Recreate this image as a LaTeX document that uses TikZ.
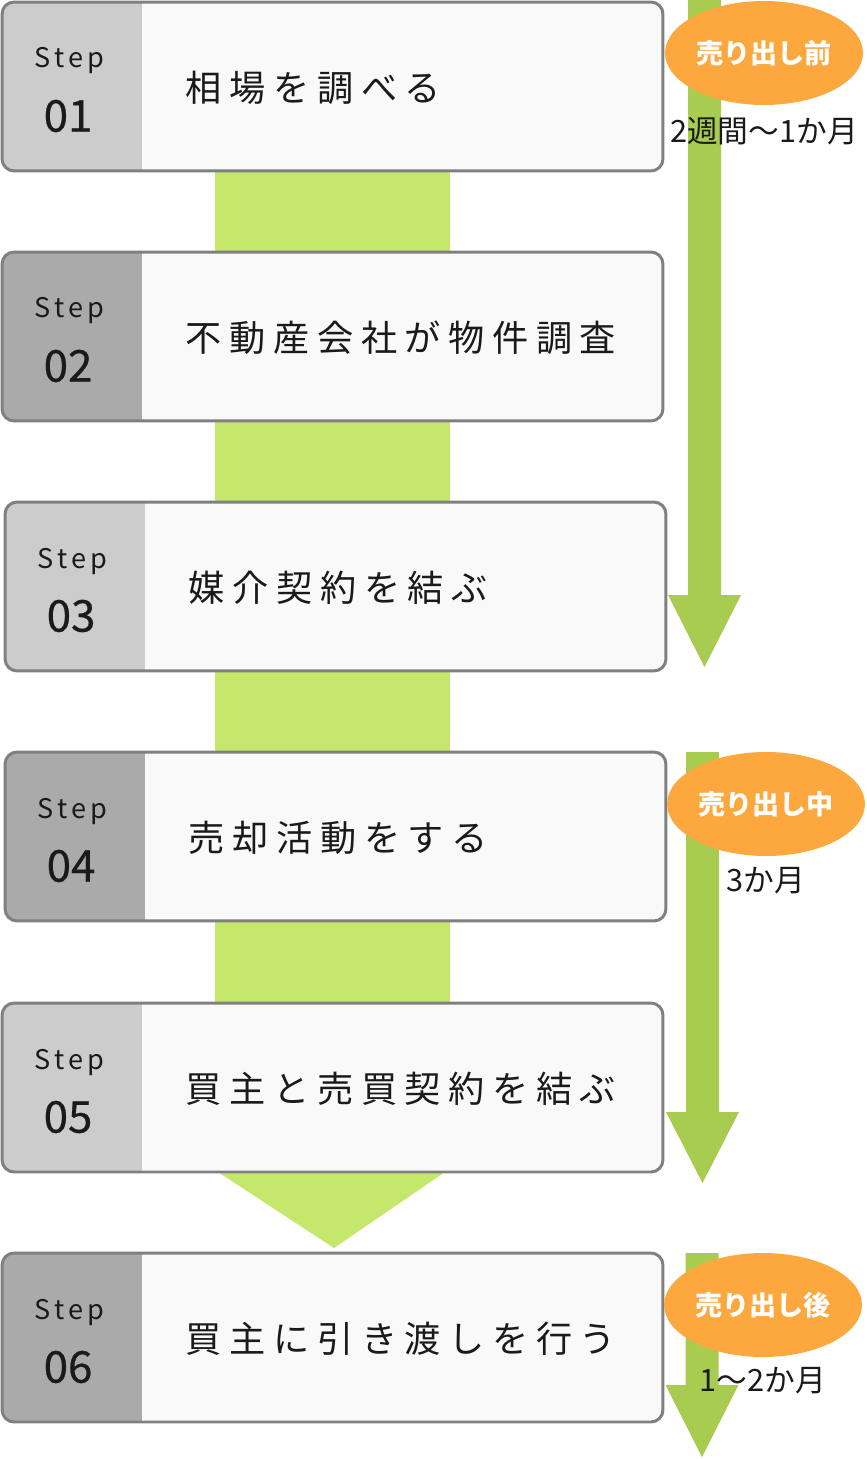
\documentclass[tikz,border=0pt]{standalone}
\usepackage{fontspec}
\setmainfont{Noto Sans CJK JP}
\usetikzlibrary{shapes.geometric}

\definecolor{bandgreen}{HTML}{C5E86C}
\definecolor{arrowgreen}{HTML}{A8CC4F}
\definecolor{phaseorange}{HTML}{FCA83F}
\definecolor{boxgray}{HTML}{808080}
\definecolor{panellight}{HTML}{CCCCCC}
\definecolor{paneldark}{HTML}{AAAAAA}
\definecolor{boxfill}{HTML}{F9F9F9}
\definecolor{ink}{HTML}{1A1A1A}

\tikzset{
  stepbox/.style={draw=boxgray, line width=1.7pt, fill=boxfill, rounded corners=0.24cm,
    minimum width=13.22cm, minimum height=3.38cm, inner sep=0pt,
    path picture={\fill[#1, sharp corners] (path picture bounding box.north west) rectangle ([xshift=2.8cm]path picture bounding box.south west);}},
  steplabel/.style={text=ink, font=\fontsize{15.4}{16}\selectfont\addfontfeatures{LetterSpace=15}},
  stepnum/.style={text=ink, font=\fontsize{25}{26}\selectfont\addfontfeatures{FakeBold=0.6}},
  steptext/.style={anchor=west, inner sep=0pt, text=ink, font=\fontsize{20.6}{22}\selectfont\addfontfeatures{LetterSpace=21}},
  phase/.style={ellipse, fill=phaseorange, minimum width=3.96cm, minimum height=2.08cm, inner sep=0pt,
    text=white, font=\bfseries\fontsize{15.4}{16}\selectfont},
  duration/.style={text=ink, font=\fontsize{17.5}{18}\selectfont},
}

\begin{document}
\begin{tikzpicture}[x=0.02cm, y=-0.02cm]
    \useasboundingbox (0,0) rectangle (866,1459);

    % Banda verde entre pasos
    \fill[bandgreen] (215,150) rectangle (450,1172);
    \fill[bandgreen] (218,1172) -- (445,1172) -- (334,1248) -- cycle;

    % Flechas de las fases
    \foreach \cx/\ytop/\yhead/\ytip in {704.5/-5/595/667, 702.5/752/1112/1183, 702/1253/1385/1457} {
        \fill[arrowgreen] (\cx-16.5,\ytop) -- (\cx+16.5,\ytop) -- (\cx+16.5,\yhead) -- (\cx+36.5,\yhead)
            -- (\cx,\ytip) -- (\cx-36.5,\yhead) -- (\cx-16.5,\yhead) -- cycle;
    }

    % Pasos
    \foreach \i/\x/\y/\panel/\texto in {1/332.5/86.5/panellight/相場を調べる,
                                        2/332.5/336.5/paneldark/不動産会社が物件調査,
                                        3/335.5/586.5/panellight/媒介契約を結ぶ,
                                        4/335.5/836.5/paneldark/売却活動をする,
                                        5/332.5/1087.5/panellight/買主と売買契約を結ぶ,
                                        6/332.5/1337.5/paneldark/買主に引き渡しを行う} {
        \node[stepbox=\panel] (box\i) at (\x,\y) {};
        \node[steplabel] (step\i) at ([xshift=1.38cm, yshift=0.51cm]box\i.west) {Step};
        \node[stepnum] (num\i) at ([xshift=1.35cm, yshift=-0.59cm]box\i.west) {0\i};
        \node[steptext] (txt\i) at ([xshift=3.7cm, yshift=-0.03cm]box\i.west) {\texto};
    }

    % Fases
    \node[phase] (phase1) at (764,53) {売り出し前};
    \node[duration] (dur1) at ([yshift=-1.56cm]phase1.center) {2週間〜1か月};

    \node[phase] (phase2) at (766,804) {売り出し中};
    \node[duration] (dur2) at ([yshift=-1.54cm]phase2.center) {3か月};

    \node[phase] (phase3) at (763,1305) {売り出し後};
    \node[duration] (dur3) at ([yshift=-1.52cm]phase3.center) {1〜2か月};
\end{tikzpicture}
\end{document}
